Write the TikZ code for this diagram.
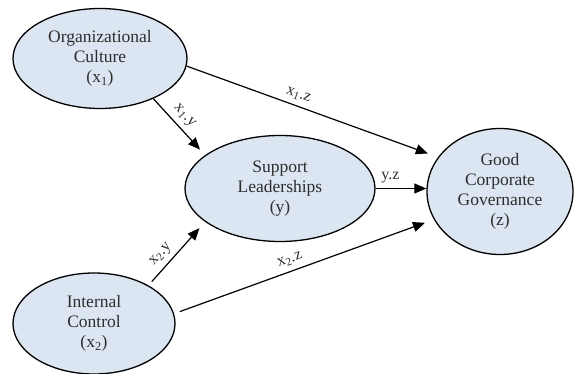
\documentclass[tikz,border=0pt]{standalone}
\usepackage{fontspec}
\setmainfont{Liberation Serif}
\usetikzlibrary{arrows.meta,shapes.geometric}
\definecolor{bubble}{HTML}{DCE6F2}
\definecolor{ink}{HTML}{2E2E2E}

\begin{document}
\begin{tikzpicture}[x=1pt,y=-1pt,
  construct/.style={ellipse, draw=black, line width=1.3pt, fill=bubble,
    inner sep=0pt, align=center, text=ink,
    font=\fontsize{17.5}{20}\selectfont},
  link/.style={line width=1.2pt, -{Triangle[length=12pt,width=10pt]}},
  coef/.style={font=\fontsize{16}{18}\selectfont, text=ink, sloped,
    above=4pt, inner sep=1pt}
]
\useasboundingbox (0,0) rectangle (576,374);

% latent constructs
\node[construct, minimum width=174pt, minimum height=100pt] (oc) at (100,58.5)
  {Organizational\\Culture\\(x\textsubscript{1})};
\node[construct, minimum width=190pt, minimum height=106pt] (sl) at (280,188.5)
  {Support\\Leaderships\\(y)};
\node[construct, minimum width=146pt, minimum height=126pt] (gcg) at (500,191.5)
  {Good\\Corporate\\Governance\\(z)};
\node[construct, minimum width=162pt, minimum height=101pt] (ic) at (94,323.5)
  {Internal\\Control\\(x\textsubscript{2})};

% structural paths
\draw[link, shorten >=10.8pt] (oc.-5) --
  node[coef, pos=0.43] {x\textsubscript{1}.z} (gcg.151.8);
\draw[link, shorten >=7.5pt] (oc.-37.9) --
  node[coef, pos=0.44] {x\textsubscript{1}.y} (sl.156.5);
\draw[link] (sl.east) --
  node[coef, pos=0.29] {y.z} (sl.east -| gcg.west);
\draw[link, shorten <=5pt, shorten >=8.5pt] (ic.35.6) --
  node[coef, pos=0.37] {x\textsubscript{2}.y} (sl.204.7);
\draw[link, shorten <=6pt, shorten >=9.5pt] (ic.7) --
  node[coef, pos=0.46] {x\textsubscript{2}.z} (gcg.203.7);
\end{tikzpicture}
\end{document}
